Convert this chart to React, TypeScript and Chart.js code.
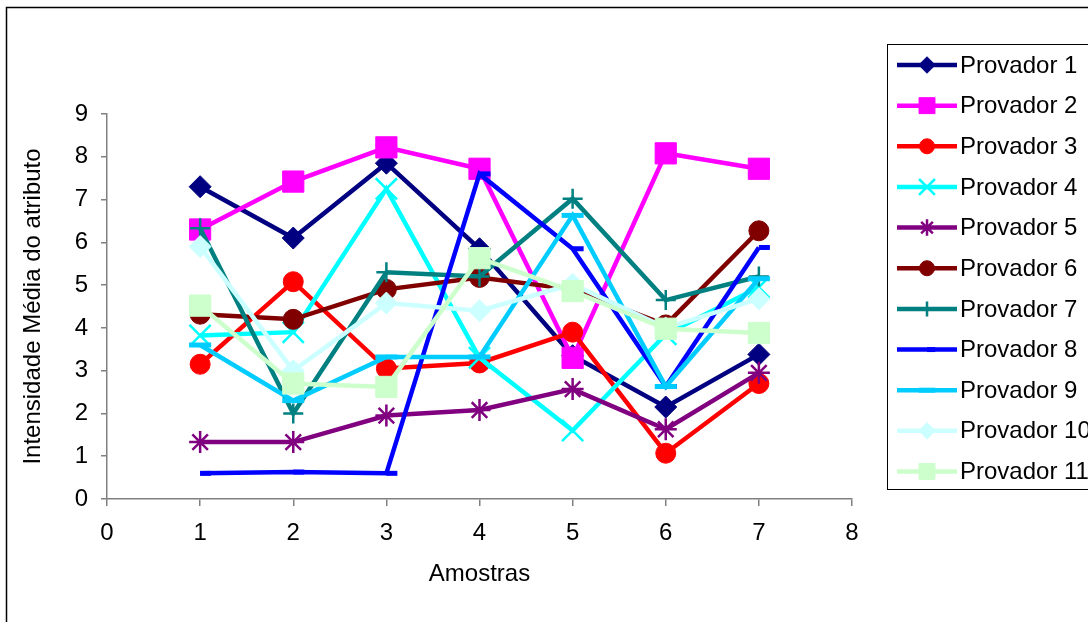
import React, { useEffect, useRef } from "react";
import { Chart, registerables } from "chart.js";
import { drawPoint } from "chart.js/helpers";

Chart.register(...registerables);

const samples = [1, 2, 3, 4, 5, 6, 7];
const xTicks = [0, 1, 2, 3, 4, 5, 6, 7, 8];
const yTicks = [0, 1, 2, 3, 4, 5, 6, 7, 8, 9];

const names = [
  "Provador 1", "Provador 2", "Provador 3", "Provador 4", "Provador 5", "Provador 6",
  "Provador 7", "Provador 8", "Provador 9", "Provador 10", "Provador 11",
];

const p1 = [7.3, 6.1, 7.85, 5.85, 3.35, 2.15, 3.38];
const p2 = [6.3, 7.42, 8.22, 7.72, 3.3, 8.08, 7.72];
const p3 = [3.15, 5.08, 3.05, 3.18, 3.9, 1.07, 2.7];
const p4 = [3.82, 3.9, 7.25, 3.3, 1.6, 3.85, 4.95];
const p5 = [1.33, 1.33, 1.95, 2.08, 2.57, 1.63, 2.95];
const p6 = [4.32, 4.2, 4.9, 5.18, 4.9, 4.07, 6.27];
const p7 = [6.33, 2.0, 5.3, 5.2, 7.02, 4.65, 5.2];
const p8 = [0.6, 0.63, 0.6, 7.6, 5.85, 2.63, 5.88];
const p9 = [3.6, 2.3, 3.32, 3.32, 6.63, 2.63, 5.15];
const p10 = [5.9, 3.0, 4.58, 4.4, 5.02, 4.0, 4.68];
const p11 = [4.52, 2.7, 2.62, 5.63, 4.86, 3.98, 3.88];

const series = [p1, p2, p3, p4, p5, p6, p7, p8, p9, p10, p11];

const colors = [
  "#000080", "#FF00FF", "#FF0000", "#00FFFF", "#800080", "#800000",
  "#008080", "#0000FF", "#00CCFF", "#CCFFFF", "#CCFFCC",
];
const styles = [
  "rectRot", "rect", "circle", "crossRot", "star", "circle",
  "cross", "dash", "line", "rectRot", "rect",
];
const radii = [11, 15, 10, 15, 11, 10, 10, 11, 11, 11, 15];
const markerWidths = [1, 1, 1, 2.5, 2.5, 1, 2.5, 5, 5, 1, 1];

const FONT = "'Liberation Sans', Arial, sans-serif";

const framePlugin = {
  id: "frameAndLegend",
  afterDraw(chart: any) {
    const ctx = chart.ctx;
    ctx.save();
    // outer frame
    ctx.strokeStyle = "#000";
    ctx.lineWidth = 1.5;
    ctx.strokeRect(6.5, 7.5, 1200, 700);
    // legend box
    ctx.lineWidth = 1;
    ctx.fillStyle = "#fff";
    ctx.fillRect(887.5, 44.5, 300, 445);
    ctx.strokeRect(887.5, 44.5, 300, 445);
    const ds = chart.data.datasets;
    ds.forEach((d: any, i: number) => {
      const y = 65 + i * 40.65;
      ctx.strokeStyle = d.borderColor;
      ctx.lineWidth = 4.5;
      ctx.beginPath();
      ctx.moveTo(897, y);
      ctx.lineTo(957, y);
      ctx.stroke();
      ctx.fillStyle = d.pointBackgroundColor;
      ctx.strokeStyle = d.pointBorderColor;
      ctx.lineWidth = d.pointBorderWidth;
      drawPoint(ctx, { pointStyle: d.pointStyle, radius: d.pointRadius * 0.75, rotation: 0, borderWidth: d.pointBorderWidth }, 927, y);
      ctx.fillStyle = "#000";
      ctx.font = `24px ${FONT}`;
      ctx.textAlign = "left";
      ctx.textBaseline = "middle";
      ctx.fillText(d.label, 960, y + 1);
    });
    ctx.restore();
  },
};

export default function App() {
  const ref = useRef<HTMLCanvasElement>(null);
  useEffect(() => {
    if (!ref.current) return;
    const datasets = series.map((vals, i) => ({
      label: names[i],
      data: vals.map((v, j) => ({ x: samples[j], y: v })),
      borderColor: colors[i],
      backgroundColor: colors[i],
      borderWidth: 4.5,
      pointStyle: styles[i],
      pointRadius: radii[i],
      pointBackgroundColor: colors[i],
      pointBorderColor: colors[i],
      pointBorderWidth: markerWidths[i],
      pointHoverRadius: radii[i],
      tension: 0,
      order: series.length - i,
      clip: false as any,
    }));
    const tickFont = { family: FONT, size: 24 };
    const chart = new Chart(ref.current, {
      type: "line",
      data: { datasets },
      plugins: [framePlugin],
      options: {
        animation: false,
        responsive: false,
        devicePixelRatio: 1,
        layout: { padding: { left: 0, right: 236, top: 114, bottom: 0 } },
        plugins: { legend: { display: false }, tooltip: { enabled: false } },
        scales: {
          x: {
            type: "linear",
            min: 0,
            max: 8,
            afterBuildTicks: (s: any) => { s.ticks = xTicks.map((v) => ({ value: v })); },
            afterFit: (s: any) => { s.height = 123; },
            ticks: { color: "#000", font: tickFont, padding: 13, maxRotation: 0 },
            grid: { display: true, drawOnChartArea: false, drawTicks: true, tickLength: 7, color: "#808080", lineWidth: 1.5 },
            border: { display: true, color: "#808080", width: 1.5 },
            title: { display: true, text: "Amostras", color: "#000", font: { family: FONT, size: 24 }, padding: { top: 0, bottom: 33 } },
          },
          y: {
            type: "linear",
            min: 0,
            max: 9,
            afterBuildTicks: (s: any) => { s.ticks = yTicks.map((v) => ({ value: v })); },
            afterFit: (s: any) => { s.width = 107; },
            ticks: { color: "#000", font: tickFont, padding: 13 },
            grid: { display: true, drawOnChartArea: false, drawTicks: true, tickLength: 6, color: "#808080", lineWidth: 1.5 },
            border: { display: true, color: "#808080", width: 1.5 },
            title: { display: true, text: "Intensidade Média do atributo", color: "#000", font: { family: FONT, size: 24 }, padding: { top: 19, bottom: 0 } },
          },
        },
      } as any,
    });
    return () => chart.destroy();
  }, []);
  return (
    <div style={{ position: "fixed", left: 0, top: 0, width: 1088, height: 622, background: "#fff" }}>
      <canvas ref={ref} width={1088} height={622} style={{ display: "block" }} />
    </div>
  );
}
